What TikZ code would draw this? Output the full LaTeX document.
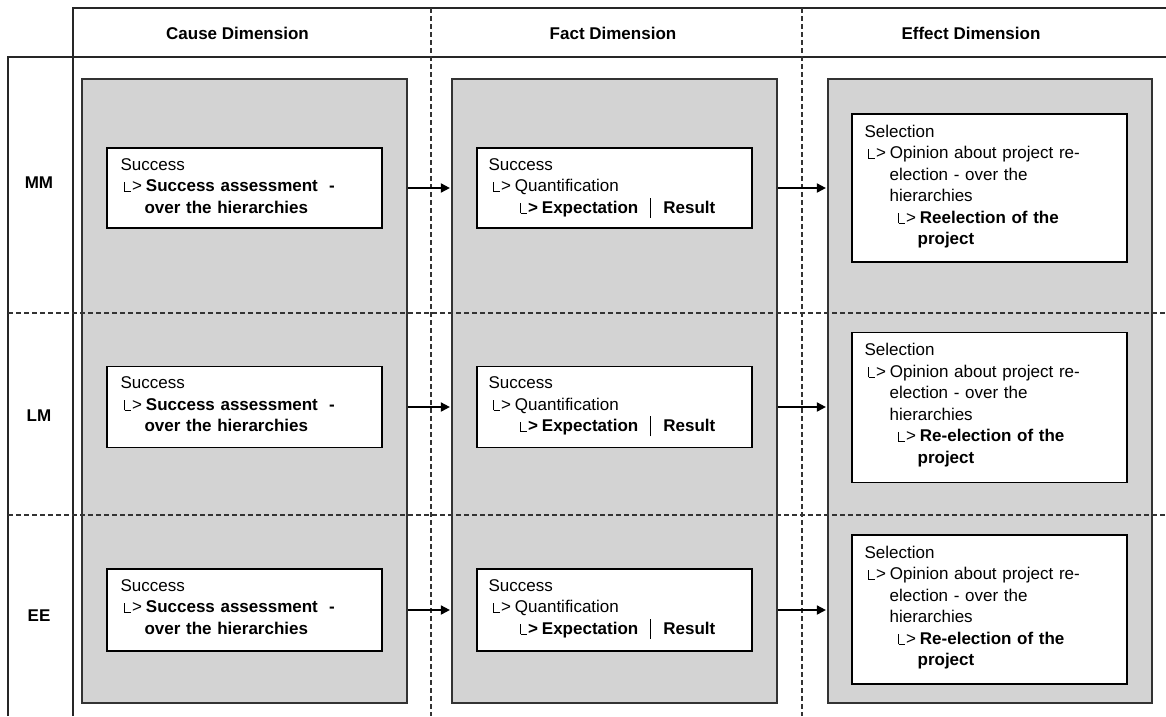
\documentclass[tikz,border=0pt]{standalone}
\usepackage{fontspec}
\setmainfont{Liberation Sans}
\usetikzlibrary{arrows.meta,calc}

% small "corner + arrow" marker used in the nested lists
\newcommand\lcorn{\rule{0.9pt}{10pt}\rule{6.5pt}{0.9pt}\kern1pt>\hspace{4pt}}
% thin vertical bar between two terms
\newcommand\sepbar{\hspace{12pt}\rule[-4.5pt]{1.1pt}{20pt}\hspace{12pt}}

\definecolor{panelgray}{RGB}{211,211,211}

\tikzset{
  frame/.style={line width=1.3pt, draw=black!85},
  divider/.style={line width=1.1pt, draw=black!80, dash pattern=on 5pt off 3pt},
  panel/.style={draw=black!80, line width=1.2pt, fill=panelgray, minimum width=325pt, minimum height=624pt, inner sep=0pt},
  card/.style={draw=black, line width=1.2pt, fill=white, minimum width=275pt, inner sep=0pt},
  cardtext/.style={anchor=base west, inner sep=0pt, text width=255pt, align=left,
                   font=\fontsize{17pt}{21.5pt}\selectfont},
  hdr/.style={font=\fontsize{17pt}{20pt}\selectfont\bfseries, inner sep=0pt},
  link/.style={line width=1.8pt, -{Triangle[length=9pt,width=9pt]}, shorten >=1.5pt},
}

\begin{document}
\begin{tikzpicture}[x=1pt,y=-1pt]
\useasboundingbox (0,0) rectangle (1166,716);

% table frame
\draw[frame] (73,716) -- (73,8) -- (1166,8);
\draw[frame] (8,716) -- (8,57) -- (1166,57);

% column headers
\node[hdr] (hcause)  at (237.5,33) {Cause Dimension};
\node[hdr] (hfact)   at (613,33)   {Fact Dimension};
\node[hdr] (heffect) at (971,33)   {Effect Dimension};

% row headers
\node[hdr] (rmm) at (39,183) {MM};
\node[hdr] (rlm) at (39,416) {LM};
\node[hdr] (ree) at (39,616) {EE};

% grey dimension panels
\node[panel] (cg) at (244.5,391) {};
\node[panel] (fg) at (614.5,391) {};
\node[panel, minimum width=324pt] (eg) at (990,391) {};

% dashed grid lines
\draw[divider] (431,8) -- (431,716);
\draw[divider] (802,8) -- (802,716);
\draw[divider] (8,313) -- (1166,313);
\draw[divider] (8,515) -- (1166,515);

% cards: cause and fact dimension
\foreach \r/\y/\h in {m/188/80, l/407/81, e/610/82}{
  \node[card, minimum height=\h pt] (c\r) at (244.5,\y) {};
  \node[card, minimum height=\h pt] (f\r) at (614.5,\y) {};
  \node[cardtext] (c\r t) at ($(c\r.north west)+(14,23)$)
    {Success\\
     \hspace*{3pt}\lcorn\textbf{Success assessment~ -}\\
     \hspace*{24pt}\textbf{over the hierarchies}};
  \node[cardtext] (f\r t) at ($(f\r.north west)+(12,23)$)
    {Success\\
     \hspace*{4pt}\lcorn Quantification\\
     \hspace*{31pt}\textbf{\lcorn Expectation}\sepbar\textbf{Result}};
}

% cards: effect dimension
\node[card, minimum height=148pt] (em) at (989.5,188) {};
\node[card, minimum height=150pt] (el) at (989.5,407.5) {};
\node[card, minimum height=149pt] (ee) at (989.5,609.5) {};
\node[cardtext] (emt) at ($(em.north west)+(13,24)$)
  {Selection\\
   \hspace*{3pt}\lcorn Opinion about project re-\\
   \hspace*{25pt}election - over the\\
   \hspace*{25pt}hierarchies\\
   \hspace*{33pt}\lcorn\textbf{Reelection of the}\\
   \hspace*{53pt}\textbf{project}};
\foreach \r in {l,e}{
  \node[cardtext] (e\r t) at ($(e\r.north west)+(13,24)$)
    {Selection\\
     \hspace*{3pt}\lcorn Opinion about project re-\\
     \hspace*{25pt}election - over the\\
     \hspace*{25pt}hierarchies\\
     \hspace*{33pt}\lcorn\textbf{Re-election of the}\\
     \hspace*{53pt}\textbf{project}};
}

% flow arrows between the dimensions
\foreach \r in {m,l,e}{
  \draw[link] (c\r.east -| cg.east) -- (c\r.east -| fg.west);
  \draw[link] (f\r.east -| fg.east) -- (f\r.east -| eg.west);
}
\end{tikzpicture}
\end{document}
